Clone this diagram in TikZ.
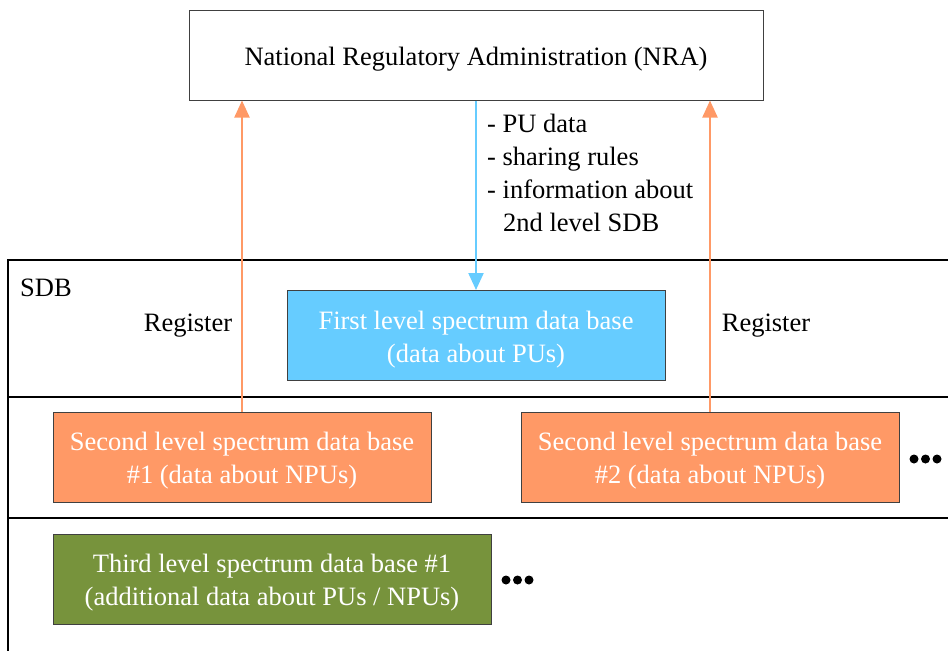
\documentclass[tikz,border=0pt]{standalone}
\usepackage{fontspec}
\setmainfont{Liberation Serif}
\newfontfamily\tnr{Liberation Serif}
\usetikzlibrary{arrows.meta}
\definecolor{nrablue}{HTML}{66CCFF}
\definecolor{sdborange}{HTML}{FF9966}
\definecolor{sdbgreen}{HTML}{77933C}
\definecolor{boxedge}{HTML}{404040}
\newcommand{\tstrut}{\rule{0pt}{26pt}}
\tikzset{
  px/.style={x=1pt,y=-1pt},
  dbbox/.style={draw=boxedge, line width=1pt, minimum width=#1, minimum height=90pt, align=center,
    text=white, inner sep=0pt, font=\tnr\fontsize{26.5}{33}\selectfont},
  plain/.style={font=\tnr\fontsize{26.5}{33}\selectfont, inner sep=0pt},
  frame/.style={line width=2pt, black},
  bluearrow/.style={draw=nrablue, line width=2.2pt, -{Triangle[length=17pt,width=15pt]}},
  orangearrow/.style={draw=sdborange, line width=2.2pt, -{Triangle[length=17pt,width=15pt]}},
  dot/.style={circle, fill=black, inner sep=0pt, minimum size=9pt},
}
\begin{document}
\begin{tikzpicture}[px]
\useasboundingbox (0,0) rectangle (948,651);
% SDB frame
\draw[frame] (948,260) -- (8,260) -- (8,651);
\draw[frame] (8,397) -- (948,397);
\draw[frame] (8,518) -- (948,518);
\node[plain, anchor=west] (sdb) at (20,288) {SDB};

% NRA
\node[draw=boxedge, line width=1pt, minimum width=574pt, minimum height=90pt, plain] (nra) at (476,55)
  {\tstrut National Regulatory Administration (NRA)};

% Boxes
\node[dbbox=378pt, fill=nrablue] (first) at (476,335.5) {\tstrut First level spectrum data base\\(data about PUs)};
\node[dbbox=378pt, fill=sdborange] (sec1) at (242,457) {\tstrut Second level spectrum data base\\\#1 (data about NPUs)};
\node[dbbox=378pt, fill=sdborange] (sec2) at (710,457) {\tstrut Second level spectrum data base\\\#2 (data about NPUs)};
\node[dbbox=438pt, fill=sdbgreen] (third) at (272,579) {\tstrut Third level spectrum data base \#1\\(additional data about PUs / NPUs)};

% arrows
\draw[bluearrow] (nra.south) -- (first.north);
\coordinate (nraL) at (nra.south -| sec1.north);
\coordinate (nraR) at (nra.south -| sec2.north);
\draw[orangearrow] (sec1.north) -- (nraL);
\draw[orangearrow] (sec2.north) -- (nraR);

% labels
\node[plain, anchor=north west, align=left] (info) at (487,114)
  {- PU data\\- sharing rules\\- information about\\\hspace*{16pt}2nd level SDB};
\node[plain] (reg1) at (188,326) {Register};
\node[plain] (reg2) at (766,326) {Register};

% dots
\node[dot] (d1) at (914,459) {};
\node[dot] (d2) at (925.5,459) {};
\node[dot] (d3) at (937,459) {};
\node[dot] (e1) at (506,580) {};
\node[dot] (e2) at (517.5,580) {};
\node[dot] (e3) at (529,580) {};
\end{tikzpicture}
\end{document}
